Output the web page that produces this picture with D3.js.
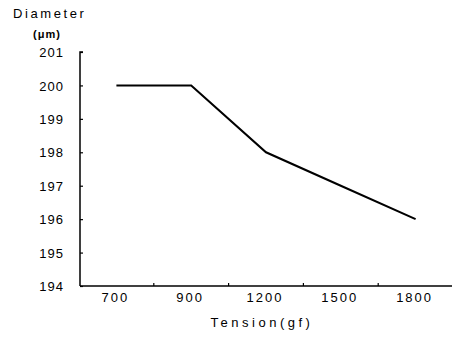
<!DOCTYPE html>
<html>
<head>
<meta charset="utf-8">
<script src="https://cdn.jsdelivr.net/npm/d3@7"></script>
<style>
  body { margin: 0; background: #fff; }
  text { font-family: "Liberation Sans", Arial, sans-serif; fill: #000; }
</style>
</head>
<body>
<div id="chart"></div>
<script>
/*
** Data
*/
var tensions = ["700", "900", "1200", "1500", "1800"]
  , diameters = [200, 200, 198, 197, 196]
  , yTicks = [194, 195, 196, 197, 198, 199, 200, 201]
;

var width = 452
  , height = 345
  , margin = { left: 80, right: 0, top: 52, bottom: 59 }
;

var svg = d3.select("#chart").append("svg")
    .attr("width", width)
    .attr("height", height)
;

var x = d3.scaleBand()
    .domain(tensions)
    .range([margin.left - 1, width + 1])
;

var y = d3.scaleLinear()
    .domain([194, 201])
    .range([height - margin.bottom, margin.top])
;

// y axis: ticks point inward
var yAxis = svg.append("g")
    .attr("transform", "translate(" + margin.left + ",0)")
    .call(d3.axisRight(y).tickValues(yTicks).tickSize(3).tickFormat(d3.format("d")))
;
yAxis.select(".domain").attr("stroke-width", 1.5).attr("d", "M0," + y(194) + "V" + y(201) + "H3");
yAxis.selectAll(".tick line").attr("stroke-width", 1.2);
yAxis.selectAll(".tick text")
    .attr("x", -16)
    .attr("text-anchor", "end")
    .attr("dy", "0.36em")
    .style("font-size", "13px")
    .style("letter-spacing", "1px")
;

// x axis: ticks at band boundaries, pointing up
var xg = svg.append("g")
    .attr("transform", "translate(0," + y(194) + ")");
xg.append("line")
    .attr("x1", margin.left).attr("x2", width)
    .attr("stroke", "#000").attr("stroke-width", 1.5);
xg.selectAll("line.tick")
    .data(tensions.slice(1))
  .enter().append("line")
    .attr("class", "tick")
    .attr("x1", function(d) { return x(d); })
    .attr("x2", function(d) { return x(d); })
    .attr("y1", 0).attr("y2", -3)
    .attr("stroke", "#000").attr("stroke-width", 1.2)
;
xg.selectAll("text")
    .data(tensions)
  .enter().append("text")
    .attr("x", function(d) { return x(d) + x.bandwidth() / 2 - 1; })
    .attr("y", 16)
    .attr("text-anchor", "middle")
    .style("font-size", "13px")
    .style("letter-spacing", "2px")
    .text(function(d) { return d; })
;

// line
var line = d3.line()
    .x(function(d, i) { return x(tensions[i]) + x.bandwidth() / 2; })
    .y(function(d) { return y(d); })
;
svg.append("path")
    .datum(diameters)
    .attr("d", line)
    .attr("fill", "none")
    .attr("stroke", "#000")
    .attr("stroke-width", 2)
;

// titles
svg.append("text")
    .attr("x", 13).attr("y", 18)
    .style("font-size", "13px")
    .style("letter-spacing", "2.6px")
    .text("Diameter");
svg.append("text")
    .attr("x", 33).attr("y", 38)
    .style("font-size", "11px")
    .style("font-weight", "bold")
    .style("letter-spacing", "1px")
    .text("(μm)");
svg.append("text")
    .attr("x", 262).attr("y", 327)
    .attr("text-anchor", "middle")
    .style("font-size", "13px")
    .style("letter-spacing", "3.5px")
    .text("Tension(gf)");
</script>
</body>
</html>
